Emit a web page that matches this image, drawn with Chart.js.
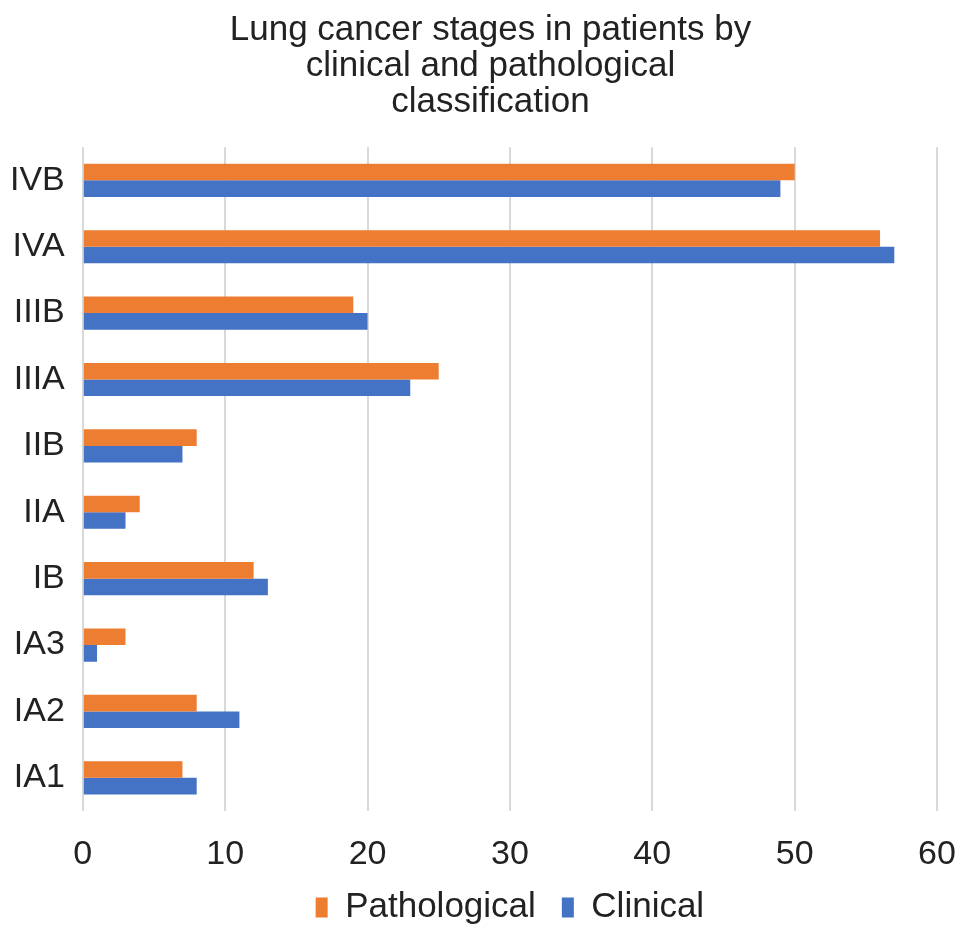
<!DOCTYPE html>
<html>
<head>
<meta charset="utf-8">
<script src="https://cdn.jsdelivr.net/npm/chart.js@4/dist/chart.umd.min.js"></script>
<style>
  html, body { margin: 0; padding: 0; background: #fff; }
  #wrap { width: 969px; height: 938px; position: relative; }
</style>
</head>
<body>
<div id="wrap"><canvas id="stageChart"></canvas></div>
<script>
const stages = ['IVB', 'IVA', 'IIIB', 'IIIA', 'IIB', 'IIA', 'IB', 'IA3', 'IA2', 'IA1'];
const pathological = [50, 56, 19, 25, 8, 4, 12, 3, 8, 7];
const clinical = [49, 57, 20, 23, 7, 3, 13, 1, 11, 8];
const xTicks = [0, 10, 20, 30, 40, 50, 60];
const titleLines = ['Lung cancer stages in patients by', 'clinical and pathological', 'classification'];

const fontFamily = '"Liberation Sans", Arial, Helvetica, sans-serif';
Chart.defaults.font.family = fontFamily;
Chart.defaults.color = '#222';

const ctx = document.getElementById('stageChart').getContext('2d');
new Chart(ctx, {
    type: 'bar',
    data: {
        labels: stages,
        datasets: [
            {
                label: 'Pathological',
                data: pathological,
                backgroundColor: '#ED7D31',
                categoryPercentage: 0.5,
                barPercentage: 1.0
            },
            {
                label: 'Clinical',
                data: clinical,
                backgroundColor: '#4472C4',
                categoryPercentage: 0.5,
                barPercentage: 1.0
            }
        ]
    },
    options: {
        indexAxis: 'y',
        responsive: true,
        maintainAspectRatio: false,
        animation: false,
        layout: { padding: { top: 12, left: -8, right: -20, bottom: 3 } },
        plugins: {
            title: {
                display: true,
                text: titleLines,
                font: { size: 35, weight: 'normal', lineHeight: 1.03 },
                color: '#222',
                padding: { top: 0, bottom: 27 }
            },
            legend: {
                position: 'bottom',
                fullSize: false,
                labels: {
                    font: { size: 35 },
                    boxWidth: 12,
                    boxHeight: 20,
                    padding: 26,
                    color: '#222'
                }
            },
            tooltip: { enabled: false }
        },
        scales: {
            x: {
                min: 0,
                max: 60,
                afterBuildTicks: (axis) => { axis.ticks = xTicks.map(v => ({ value: v })); },
                // chart.js counts the tick padding twice; keep the axis band tight
                afterFit: (axis) => {
                    axis.paddingRight = 32;
                    axis.paddingLeft = 0;
                    axis.height = 53;
                },
                grid: { color: '#d9d9d9', lineWidth: 2, drawTicks: false },
                border: { display: false },
                ticks: { font: { size: 34 }, padding: 23, color: '#222' }
            },
            y: {
                grid: { display: false, drawTicks: false },
                border: { display: false },
                ticks: { font: { size: 34 }, padding: 18, color: '#222' }
            }
        }
    }
});
</script>
</body>
</html>
